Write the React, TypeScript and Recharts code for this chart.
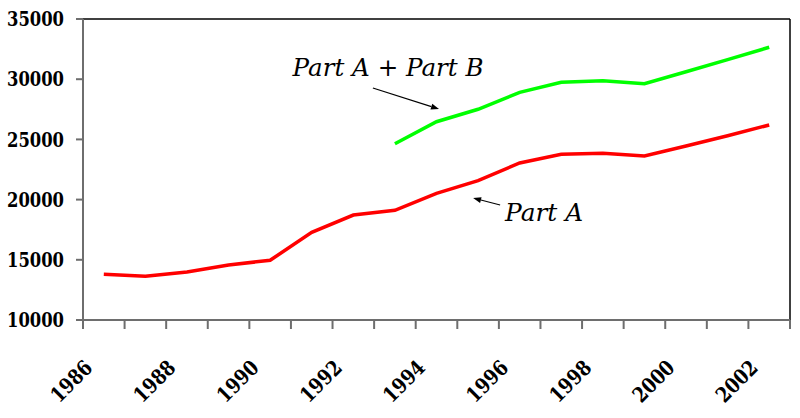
import React from "react";
import { ComposedChart, Line, XAxis, YAxis, ReferenceLine, ReferenceDot } from "recharts";

// ── Data ───────────────────────────────────────────────────────────────────────

const YEARS = [1986, 1987, 1988, 1989, 1990, 1991, 1992, 1993, 1994, 1995, 1996, 1997, 1998, 1999, 2000, 2001, 2002];
const PART_A = [13800, 13630, 13990, 14570, 14960, 17280, 18720, 19110, 20520, 21570, 23040, 23760, 23850, 23620, 24450, 25300, 26200];
const PART_A_B = [null, null, null, null, null, null, null, 24640, 26470, 27500, 28910, 29740, 29880, 29620, 30620, 31630, 32650];
const LABEL_YEARS = [1986, 1988, 1990, 1992, 1994, 1996, 1998, 2000, 2002];
const Y_TICKS = [10000, 15000, 20000, 25000, 30000, 35000];

const NOTES = [
  { text: "Part A + Part B", year: 1990.54, value: 30270 },
  { text: "Part A", year: 1995.65, value: 18220 },
];
const ARROWS = [
  { fromYear: 1992.47, fromValue: 29270, toYear: 1994.06, toValue: 27525 },
  { fromYear: 1995.53, fromValue: 19550, toYear: 1994.88, toValue: 20130 },
];

// ── Theme ──────────────────────────────────────────────────────────────────────

const C = {
  red: "#FF0000",
  green: "#00FF00",
  axis: "#6E6E6E",
  frame: "#000000",
  text: "#000000",
};
const FONT = "DejaVu Serif";
// Times-like widths, squeezed out of DejaVu Serif
const NOTE_WIDTH: Record<string, number> = { "Part A + Part B": 191, "Part A": 78 };
const X_TICK_LEN = 9;
const Y_TICK_LEN = 7;
const Y_TICK_GAP = 12;

const EDGE_TICKS = [...YEARS.map((y) => y - 0.5), YEARS[YEARS.length - 1] + 0.5];
const DOMAIN: [number, number] = [EDGE_TICKS[0], EDGE_TICKS[EDGE_TICKS.length - 1]];

const data = YEARS.map((year, i) => ({ year, partA: PART_A[i], partAB: PART_A_B[i] }));

// ── Sub-components ─────────────────────────────────────────────────────────────

function EdgeTick(props: any) {
  const { x, y } = props;
  return <line x1={x} y1={y} x2={x} y2={y + X_TICK_LEN} stroke={C.axis} strokeWidth={2} />;
}

function YearTick(props: any) {
  const { x, y, payload } = props;
  const ax = x - 10;
  const ay = y + 40;
  return (
    <text
      x={ax}
      y={ay}
      textAnchor="end"
      transform={`rotate(-45, ${ax}, ${ay})`}
      fontFamily={FONT}
      fontWeight="bold"
      fontSize={21}
      textLength={49}
      lengthAdjust="spacingAndGlyphs"
      fill={C.text}
    >
      {payload.value}
    </text>
  );
}

function ValueTick(props: any) {
  const { x, y, payload } = props;
  const axisX = x + Y_TICK_GAP + Y_TICK_LEN;
  return (
    <g>
      <line x1={axisX - Y_TICK_LEN} y1={y} x2={axisX} y2={y} stroke={C.axis} strokeWidth={2} />
      <text
        x={x}
        y={y}
        dy="0.36em"
        textAnchor="end"
        fontFamily={FONT}
        fontWeight="bold"
        fontSize={20}
        textLength={57}
        lengthAdjust="spacingAndGlyphs"
        fill={C.text}
      >
        {payload.value}
      </text>
    </g>
  );
}

function Arrow(props: any) {
  const { x1, y1, x2, y2 } = props;
  const dx = x2 - x1;
  const dy = y2 - y1;
  const len = Math.sqrt(dx * dx + dy * dy) || 1;
  const ux = dx / len;
  const uy = dy / len;
  const head = 8;
  const half = 3;
  const bx = x2 - ux * head;
  const by = y2 - uy * head;
  return (
    <g>
      <line x1={x1} y1={y1} x2={bx} y2={by} stroke="#000" strokeWidth={1.2} />
      <polygon
        points={`${x2},${y2} ${bx - uy * half},${by + ux * half} ${bx + uy * half},${by - ux * half}`}
        fill="#000"
      />
    </g>
  );
}

function noteShape(text: string) {
  return (props: any) => (
    <text
      x={props.cx}
      y={props.cy}
      fontFamily={FONT}
      fontStyle="italic"
      fontSize={25}
      textLength={NOTE_WIDTH[text]}
      lengthAdjust="spacingAndGlyphs"
      fill={C.text}
    >
      {text}
    </text>
  );
}

// ── Component ──────────────────────────────────────────────────────────────────

export default function App() {
  return (
    <div style={{ position: "fixed", left: 0, top: 0, width: 800, height: 418, background: "#fff" }}>
      <ComposedChart
        width={800}
        height={418}
        data={data}
        margin={{ top: 19, right: 10, bottom: 0, left: 0 }}
      >
        {/* Tick marks between categories */}
        <XAxis
          xAxisId="edges"
          dataKey="year"
          type="number"
          domain={DOMAIN}
          ticks={EDGE_TICKS}
          interval={0}
          tick={<EdgeTick />}
          tickSize={0}
          tickMargin={0}
          height={9}
          stroke={C.axis}
          axisLine={{ stroke: C.axis, strokeWidth: 2 }}
          tickLine={false}
          allowDataOverflow
        />
        {/* Year labels centred on categories */}
        <XAxis
          xAxisId="years"
          dataKey="year"
          type="number"
          domain={DOMAIN}
          ticks={LABEL_YEARS}
          tick={<YearTick />}
          tickSize={0}
          tickMargin={0}
          height={89}
          axisLine={false}
          tickLine={false}
          interval={0}
          allowDataOverflow
        />
        <YAxis
          type="number"
          domain={[10000, 35000]}
          ticks={Y_TICKS}
          interval={0}
          width={83}
          tickSize={Y_TICK_LEN}
          tickMargin={Y_TICK_GAP}
          stroke={C.axis}
          axisLine={{ stroke: C.axis, strokeWidth: 2 }}
          tickLine={false}
          tick={<ValueTick />}
          allowDataOverflow
        />

        {/* Frame: top and right */}
        <ReferenceLine xAxisId="edges" y={35000} stroke={C.frame} strokeWidth={1.5} />
        <ReferenceLine xAxisId="edges" x={DOMAIN[1]} stroke={C.frame} strokeWidth={1.5} />

        <Line
          xAxisId="years"
          dataKey="partA"
          stroke={C.red}
          strokeWidth={3.5}
          dot={false}
          isAnimationActive={false}
        />
        <Line
          xAxisId="years"
          dataKey="partAB"
          stroke={C.green}
          strokeWidth={3.5}
          dot={false}
          connectNulls={false}
          isAnimationActive={false}
        />

        {/* Annotations */}
        {ARROWS.map((a, i) => (
          <ReferenceLine
            key={`arrow-${i}`}
            xAxisId="years"
            segment={[
              { x: a.fromYear, y: a.fromValue },
              { x: a.toYear, y: a.toValue },
            ]}
            shape={Arrow}
          />
        ))}
        {NOTES.map((n, i) => (
          <ReferenceDot
            key={`note-${i}`}
            xAxisId="years"
            x={n.year}
            y={n.value}
            r={0}
            shape={noteShape(n.text)}
          />
        ))}
      </ComposedChart>
    </div>
  );
}
